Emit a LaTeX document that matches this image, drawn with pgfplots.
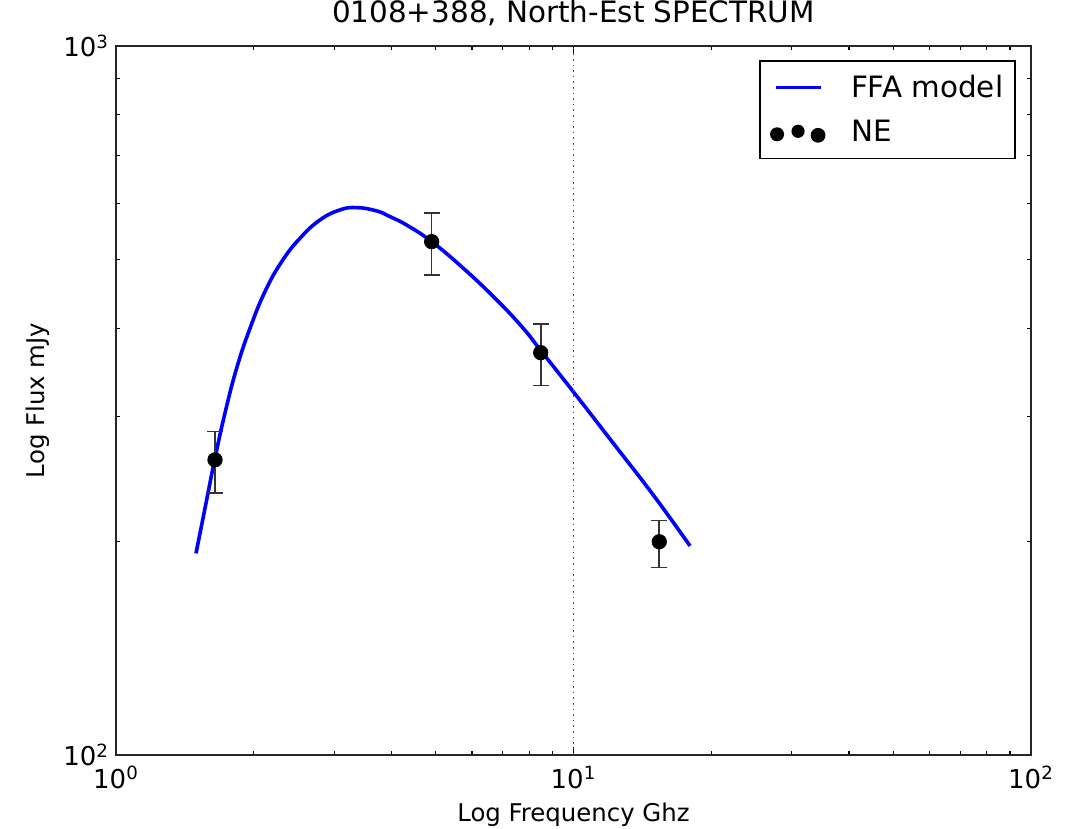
\documentclass[border=0pt]{standalone}
\usepackage{fontspec}
\setmainfont{DejaVu Sans}
\usepackage{pgfplots}
\pgfplotsset{compat=1.18}
\begin{document}
\begin{tikzpicture}
\begin{axis}[
  name=ax,
  scale only axis,
  width=457.5pt, height=354.5pt,
  xmode=log, ymode=log,
  xmin=1, xmax=100, ymin=100, ymax=1000,
  xtick={1,10,100},
  xticklabels={10\textsuperscript{0},10\textsuperscript{1},10\textsuperscript{2}},
  ytick={100,1000},
  yticklabels={10\textsuperscript{2},10\textsuperscript{3}},
  tick label style={font=\fontsize{13}{16}\selectfont},
  xticklabel style={yshift=-2pt},
  tick align=inside,
  major tick length=4pt,
  minor tick length=2pt,
  every tick/.style={black, line width=0.6pt},
  axis line style={line width=0.9pt, black!85},
  title={0108+388, North-Est SPECTRUM},
  title style={font=\fontsize{14.7}{17}\selectfont, at={(0.5,1)}, anchor=base, yshift=5.5pt},
  xlabel={Log Frequency Ghz},
  ylabel={Log Flux mJy},
  label style={font=\fontsize{12.2}{15}\selectfont},
  xlabel style={at={(0.5,0)}, anchor=center, yshift=-30pt},
  ylabel style={at={(0,0.5)}, anchor=center, yshift=39pt},
  legend cell align=left,
  legend style={at={(0.9836,0.9803)}, anchor=north east, draw=black, line width=0.8pt,
    font=\fontsize{14.7}{17}\selectfont, inner xsep=4pt, inner ysep=5pt, row sep=6pt},
]
\addplot[blue, line width=1.8pt, smooth, tension=0.75,
  legend image code/.code={\draw[blue,line width=1.8pt] (4pt,0pt) -- (26.5pt,0pt); \path[draw=none] (0pt,0pt) -- (39.5pt,0pt);}]
  coordinates {
  (1.4959,192.5) (1.5651,222.8) (1.6458,262.1) (1.7305,303.4) (1.8353,351.1)
  (1.9630,399.7) (2.1168,450.4) (2.3027,496.4) (2.5245,535.6) (2.7923,568.4)
  (3.0877,587.2) (3.3577,591.6) (3.7131,585.3) (3.9711,574.5) (4.3196,559.0)
  (4.898,529.7) (5.742,485.9) (6.794,438.4) (7.769,399.7) (8.521,370.5)
  (9.990,325.4) (12.219,275.2) (14.945,232.6) (17.978,197.2)
  };
\addlegendentry{FFA model}
\addplot[only marks, mark=*, mark size=3.6pt, black,
  legend image code/.code={
    \fill[black, draw=none] (4.5pt,-1pt) circle (3.5pt);
    \fill[black, draw=none] (15pt,0.5pt) circle (3.3pt);
    \fill[black, draw=none] (25pt,-1.5pt) circle (3.7pt);
    \path[draw=none] (0pt,0pt) -- (39pt,0pt);},
  error bars/.cd, y dir=both, y explicit,
  error mark options={rotate=90, mark size=4pt, line width=0.8pt, black!80},
  error bar style={line width=0.8pt, black!80},
  ]
  coordinates {
  (1.646,260.8) += (0,25.0) -= (0,26.8)
  (4.898,529.7) += (0,51.1) -= (0,54.3)
  (8.479,369.4) += (0,36.1) -= (0,37.6)
  (15.40,199.9) += (0,14.2) -= (0,16.0)
  };
\addlegendentry{NE}
\addplot[black!70, dotted, line width=0.8pt, forget plot] coordinates {(10,100) (10,1000)};
\coordinate (bl) at (rel axis cs:0,0);
\coordinate (tr) at (rel axis cs:1,1);
\end{axis}
\pgfresetboundingbox
\path[use as bounding box] ([xshift=-58pt,yshift=-37pt]bl) rectangle ([xshift=21pt,yshift=23pt]tr);
\end{tikzpicture}
\end{document}
